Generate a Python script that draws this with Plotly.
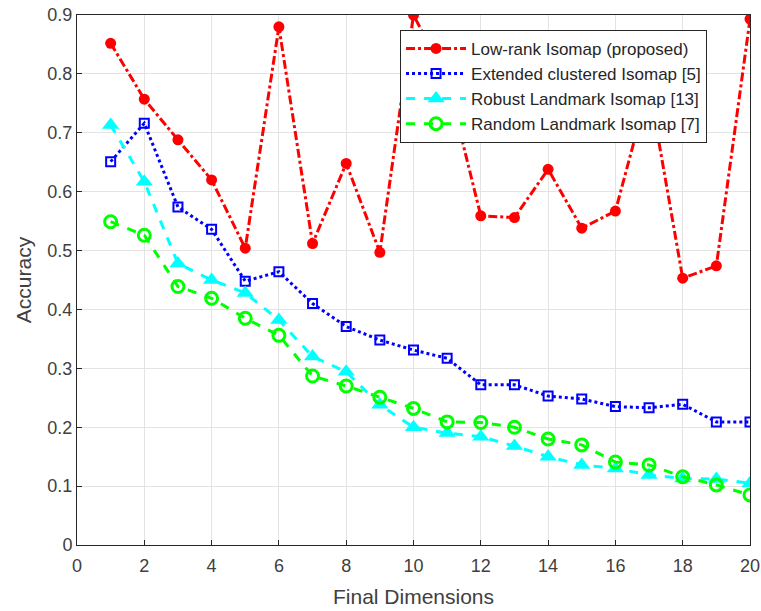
import plotly.graph_objects as go

dims = list(range(1, 21))
low_rank = [0.852, 0.757, 0.688, 0.620, 0.504, 0.880, 0.512, 0.648, 0.497, 0.900,
            0.790, 0.559, 0.556, 0.638, 0.538, 0.567, 0.780, 0.453, 0.474, 0.893]
ext_clustered = [0.651, 0.716, 0.574, 0.536, 0.448, 0.464, 0.410, 0.371, 0.348, 0.331,
                 0.317, 0.272, 0.272, 0.253, 0.248, 0.235, 0.233, 0.239, 0.209, 0.209]
robust_landmark = [0.713, 0.617, 0.478, 0.450, 0.428, 0.382, 0.320, 0.294, 0.238, 0.200,
                   0.190, 0.184, 0.168, 0.150, 0.136, 0.130, 0.119, 0.113, 0.112, 0.105]
random_landmark = [0.549, 0.526, 0.439, 0.419, 0.385, 0.356, 0.287, 0.270, 0.251, 0.232,
                   0.209, 0.208, 0.200, 0.180, 0.170, 0.141, 0.136, 0.116, 0.102, 0.085]

names = ["Low-rank Isomap (proposed)", "Extended clustered Isomap [5]",
         "Robust Landmark Isomap [13]", "Random Landmark Isomap [7]"]

fig = go.Figure()
fig.add_trace(go.Scatter(x=dims, y=low_rank, name=names[0], mode="lines+markers",
                         line=dict(color="#ff0000", width=3, dash="dashdot"),
                         marker=dict(symbol="circle", size=11, color="#ff0000")))
fig.add_trace(go.Scatter(x=dims, y=ext_clustered, name=names[1], mode="lines+markers",
                         line=dict(color="#0000ff", width=3, dash="dot"),
                         marker=dict(symbol="square-open", size=9, color="#0000ff",
                                     line=dict(width=2))))
fig.add_trace(go.Scatter(x=dims, y=robust_landmark, name=names[2], mode="lines+markers",
                         line=dict(color="#00ffff", width=3, dash="dash"),
                         marker=dict(symbol="triangle-up", size=15, color="#00ffff")))
fig.add_trace(go.Scatter(x=dims, y=random_landmark, name=names[3], mode="lines+markers",
                         line=dict(color="#00ff00", width=3, dash="dash"),
                         marker=dict(symbol="circle-open", size=12, color="#00ff00",
                                     line=dict(width=3))))

axis_common = dict(showgrid=True, gridcolor="#e3e3e3", gridwidth=1,
                   showline=True, linecolor="#262626", linewidth=1, mirror=True,
                   ticks="inside", ticklen=5, tickcolor="#262626",
                   tickfont=dict(family="Liberation Sans, Arial", size=18, color="#404040"),
                   zeroline=False, automargin=False)

fig.update_layout(
    width=761, height=611,
    margin=dict(l=77, r=11, t=15, b=66, autoexpand=False),
    paper_bgcolor="white", plot_bgcolor="white",
    font=dict(family="Liberation Sans, Arial", color="#262626"),
    xaxis=dict(range=[0, 20], dtick=2, tick0=0, ticklabelstandoff=4,
               title=dict(text="Final Dimensions", font=dict(size=21, color="#404040"),
                          standoff=14),
               **axis_common),
    yaxis=dict(range=[0, 0.9], dtick=0.1, tick0=0,
               title=dict(text="Accuracy", font=dict(size=21, color="#404040"),
                          standoff=10),
               **axis_common),
    legend=dict(x=0.48, y=0.972, xanchor="left", yanchor="top",
                bgcolor="white", bordercolor="#262626", borderwidth=1,
                font=dict(size=17, color="#262626"), tracegroupgap=0,
                itemwidth=60),
    showlegend=True,
)

fig.write_html("out.html")
